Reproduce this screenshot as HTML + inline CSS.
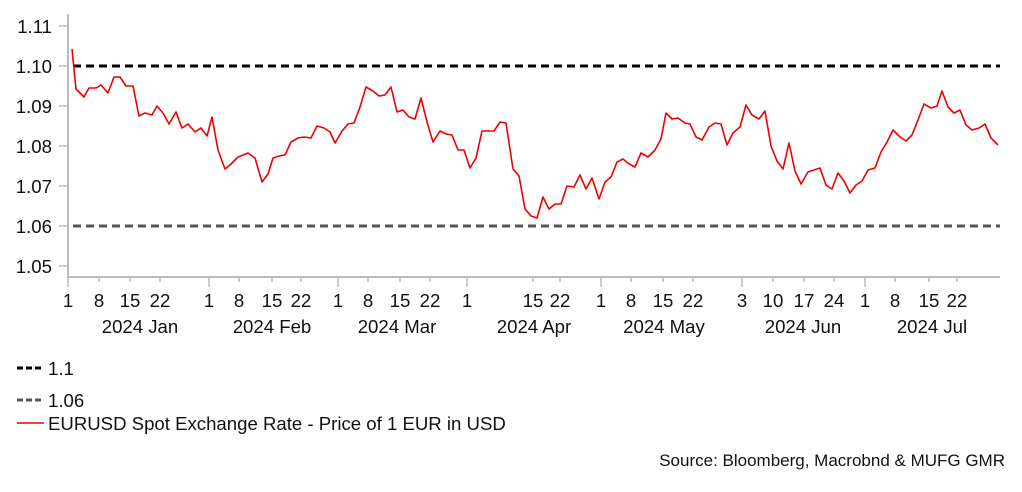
<!DOCTYPE html>
<html><head><meta charset="utf-8"><style>
body{margin:0;background:#fff;width:1022px;height:487px;overflow:hidden;font-family:"Liberation Sans",Arial,sans-serif;}
</style></head><body>
<svg width="1022" height="487" xmlns="http://www.w3.org/2000/svg" font-family="Liberation Sans, Arial, sans-serif" font-size="18.6" fill="#111">
<line x1="68" y1="14" x2="68" y2="278" stroke="#bbb" stroke-width="2"/>
<line x1="67" y1="277" x2="1000" y2="277" stroke="#bbb" stroke-width="2"/>
<g stroke="#bbb" stroke-width="1.5">
<line x1="59" y1="26" x2="68" y2="26"/><line x1="59" y1="66" x2="68" y2="66"/><line x1="59" y1="106" x2="68" y2="106"/><line x1="59" y1="146" x2="68" y2="146"/><line x1="59" y1="186" x2="68" y2="186"/><line x1="59" y1="226" x2="68" y2="226"/><line x1="59" y1="266" x2="68" y2="266"/>
</g>
<g text-anchor="end">
<text x="52" y="33">1.11</text><text x="52" y="73">1.10</text><text x="52" y="113">1.09</text><text x="52" y="153">1.08</text><text x="52" y="193">1.07</text><text x="52" y="233">1.06</text><text x="52" y="273">1.05</text>
</g>
<g stroke="#bbb" stroke-width="1.5">
<line x1="68" y1="277" x2="68" y2="287"/><line x1="99" y1="277" x2="99" y2="282"/><line x1="130" y1="277" x2="130" y2="282"/><line x1="160" y1="277" x2="160" y2="282"/>
<line x1="209" y1="277" x2="209" y2="287"/><line x1="239" y1="277" x2="239" y2="282"/><line x1="272" y1="277" x2="272" y2="282"/><line x1="301" y1="277" x2="301" y2="282"/>
<line x1="338" y1="277" x2="338" y2="287"/><line x1="368" y1="277" x2="368" y2="282"/><line x1="400" y1="277" x2="400" y2="282"/><line x1="430" y1="277" x2="430" y2="282"/>
<line x1="467" y1="277" x2="467" y2="287"/><line x1="533" y1="277" x2="533" y2="282"/><line x1="560" y1="277" x2="560" y2="282"/>
<line x1="601" y1="277" x2="601" y2="287"/><line x1="631" y1="277" x2="631" y2="282"/><line x1="663" y1="277" x2="663" y2="282"/><line x1="693" y1="277" x2="693" y2="282"/>
<line x1="742" y1="277" x2="742" y2="287"/><line x1="773" y1="277" x2="773" y2="282"/><line x1="804" y1="277" x2="804" y2="282"/><line x1="834" y1="277" x2="834" y2="282"/>
<line x1="865" y1="277" x2="865" y2="287"/><line x1="895" y1="277" x2="895" y2="282"/><line x1="929" y1="277" x2="929" y2="282"/><line x1="957" y1="277" x2="957" y2="282"/>
</g>
<g text-anchor="middle">
<text x="68" y="307">1</text><text x="99" y="307">8</text><text x="130" y="307">15</text><text x="160" y="307">22</text>
<text x="209" y="307">1</text><text x="239" y="307">8</text><text x="272" y="307">15</text><text x="301" y="307">22</text>
<text x="338" y="307">1</text><text x="368" y="307">8</text><text x="400" y="307">15</text><text x="430" y="307">22</text>
<text x="467" y="307">1</text><text x="533" y="307">15</text><text x="560" y="307">22</text>
<text x="601" y="307">1</text><text x="631" y="307">8</text><text x="663" y="307">15</text><text x="693" y="307">22</text>
<text x="742" y="307">3</text><text x="773" y="307">10</text><text x="804" y="307">17</text><text x="834" y="307">24</text>
<text x="865" y="307">1</text><text x="895" y="307">8</text><text x="929" y="307">15</text><text x="957" y="307">22</text>
<text x="140" y="333">2024 Jan</text><text x="272" y="333">2024 Feb</text><text x="397" y="333">2024 Mar</text><text x="534" y="333">2024 Apr</text><text x="664" y="333">2024 May</text><text x="803" y="333">2024 Jun</text><text x="932" y="333">2024 Jul</text>
</g>
<line x1="73" y1="66" x2="1000" y2="66" stroke="#000" stroke-width="3" stroke-dasharray="8,5"/>
<line x1="73" y1="226" x2="1000" y2="226" stroke="#555" stroke-width="3" stroke-dasharray="8,5"/>
<polyline fill="none" stroke="#e00" stroke-width="1.6" stroke-linejoin="round" points="72,49 76,89 84,97 89,88 96,88 101,85 108,93 114,77 120,77 126,86 133,86 139,116 145,113 152,115 157,106 163,113 169,124 176,112 182,128 188,124 195,132 201,128 207,136 212,117 218,150 225,169 230,165 238,157 248,153 255,158 262,182 268,174 273,158 279,156 285,155 291,142 298,138 304,137 311,138 317,126 324,128 330,132 335,143 342,131 348,124 354,123 360,107 366,87 373,91 379,96 385,95 391,87 397,112 403,110 409,117 415,119 421,98 427,122 433,142 440,131 446,134 452,135 458,150 464,150 470,168 476,158 482,131 488,131 494,131 500,122 506,123 513,169 519,176 525,209 531,216 537,218 543,197 549,209 555,204 561,204 567,186 574,187 580,175 586,189 592,178 599,199 605,182 611,177 617,162 623,159 629,164 635,167 641,153 648,157 655,150 661,139 666,113 672,119 678,118 685,123 690,124 696,137 702,140 709,127 715,123 721,124 727,145 733,133 740,127 746,105 752,115 759,119 765,111 771,146 777,161 783,169 789,143 795,171 801,184 808,172 814,170 820,168 826,185 832,189 838,173 844,181 850,193 856,185 862,181 868,170 875,168 881,152 887,142 893,130 900,137 906,141 912,135 918,120 924,104 931,108 937,106 942,91 948,107 954,113 960,110 966,125 972,130 979,128 985,124 991,138 998,145"/>
<line x1="17" y1="368" x2="44" y2="368" stroke="#000" stroke-width="3" stroke-dasharray="6,3"/>
<text x="48" y="375">1.1</text>
<line x1="17" y1="400" x2="44" y2="400" stroke="#555" stroke-width="3" stroke-dasharray="6,3"/>
<text x="48" y="407">1.06</text>
<line x1="17" y1="423" x2="44" y2="423" stroke="#e00" stroke-width="1.6"/>
<text x="48" y="430">EURUSD Spot Exchange Rate - Price of 1 EUR in USD</text>
<text x="1005" y="466" text-anchor="end" font-size="17">Source: Bloomberg, Macrobnd &amp; MUFG GMR</text>
</svg>
</body></html>
